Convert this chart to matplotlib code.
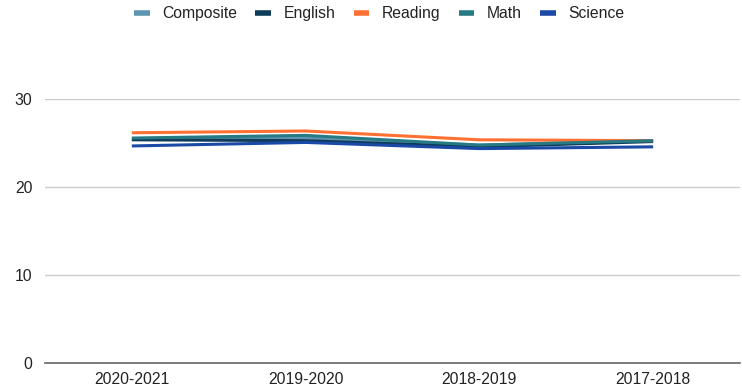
import matplotlib.pyplot as plt

years = ["2020-2021", "2019-2020", "2018-2019", "2017-2018"]
composite = [25.5, 25.6, 24.8, 25.3]
english = [25.4, 25.3, 24.6, 25.2]
reading = [26.2, 26.4, 25.4, 25.3]
math_scores = [25.6, 25.9, 24.8, 25.3]
science = [24.7, 25.1, 24.4, 24.6]

series = [
    ("Composite", composite, "#5f95b3"),
    ("English", english, "#0d3b59"),
    ("Reading", reading, "#ff7033"),
    ("Math", math_scores, "#267a84"),
    ("Science", science, "#1a49a6"),
]

plt.rcParams['font.family'] = ['Liberation Sans', 'DejaVu Sans']

fig = plt.figure(figsize=(7.42, 3.89), dpi=100)
ax = fig.add_axes([0.0606, 0.066, 0.9367, 0.6787])

x = range(len(years))
for name, vals, col in series:
    ax.plot(x, vals, color=col, linewidth=2.2, label=name, solid_capstyle="butt")

ax.set_xlim(-0.5, 3.5)
ax.set_ylim(0, 30)
ax.set_yticks([0, 10, 20, 30])
ax.set_xticks(list(x))
ax.set_xticklabels(years)
ax.grid(axis="y", color="#cccccc", linewidth=1)
ax.set_axisbelow(True)
for s in ["top", "right", "left"]:
    ax.spines[s].set_visible(False)
ax.spines["bottom"].set_color("#666666")
ax.spines["bottom"].set_linewidth(1.2)
ax.tick_params(length=0, labelsize=11.3, labelcolor="#222222")
ax.tick_params(axis="y", pad=9)
ax.tick_params(axis="x", pad=6)

leg = fig.legend(loc="upper center", bbox_to_anchor=(0.511, 1.02), ncol=5, frameon=False,
                 fontsize=11.3, handlelength=1.0, columnspacing=1.15, handletextpad=0.8)
for h in leg.get_lines():
    h.set_linewidth(4)
for t in leg.get_texts():
    t.set_color("#222222")

fig.savefig("out.png", dpi=100)
